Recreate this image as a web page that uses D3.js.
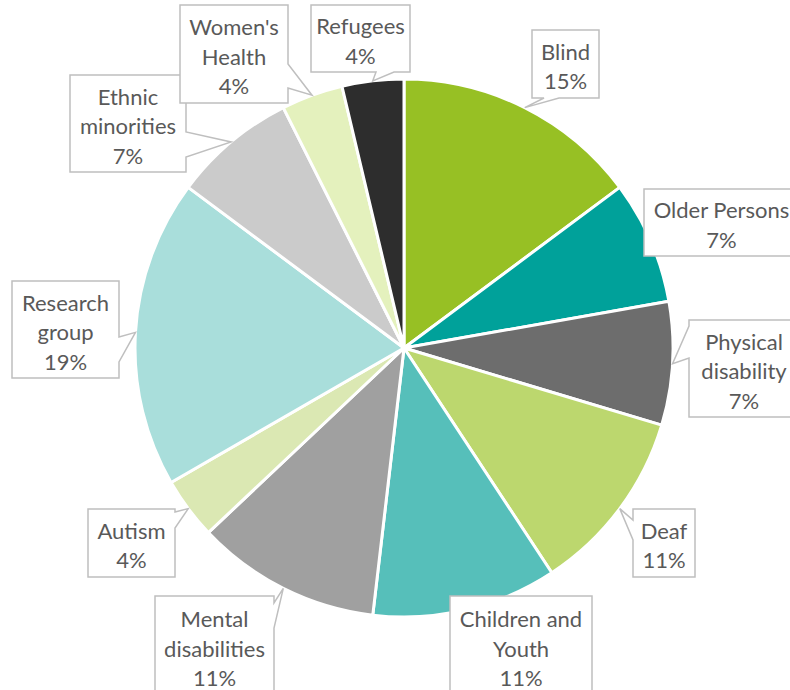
<!DOCTYPE html>
<html>
<head>
<meta charset="utf-8">
<script src="https://cdn.jsdelivr.net/npm/d3@7"></script>
<style>
  html, body { margin: 0; padding: 0; background: #ffffff; }
  svg { display: block; }
  .lbl { font-family: Lato, "Open Sans", "Liberation Sans", sans-serif; font-size: 22px; fill: #595959; }
</style>
</head>
<body>
<svg id="chart" width="790" height="690"></svg>
<script>
// Groups (clockwise from 12 o'clock) and number of entries in each
const categories = ["Blind", "Older Persons", "Physical disability", "Deaf", "Children and Youth",
  "Mental disabilities", "Autism", "Research group", "Ethnic minorities", "Women's Health", "Refugees"];
const counts = [4, 2, 2, 3, 3, 3, 1, 5, 2, 1, 1];
// Label text, broken into lines (the percentage is added as the last line)
const labelLines = [["Blind"], ["Older Persons"], ["Physical", "disability"], ["Deaf"], ["Children and", "Youth"],
  ["Mental", "disabilities"], ["Autism"], ["Research", "group"], ["Ethnic", "minorities"], ["Women's", "Health"], ["Refugees"]];
const colors = ["#97c024", "#00a19a", "#6d6d6d", "#bcd76e", "#56bfba", "#a0a0a0",
  "#dbe8b3", "#a9dedb", "#cbcbcb", "#e4f1bd", "#2d2d2d"];

// Callout boxes: x, y, w, h and the edge carrying the pointer (side, from, to)
const callouts = [
  { x: 532, y: 30,  w: 67,  h: 68, ptr: ["bottom", 544, 559] },
  { x: 644, y: 189, w: 155, h: 67, ptr: null },
  { x: 689, y: 320, w: 110, h: 97, ptr: ["left", 326, 358] },
  { x: 633, y: 509, w: 62,  h: 68, ptr: ["left", 520, 540] },
  { x: 450, y: 596, w: 142, h: 100, ptr: null },
  { x: 155, y: 596, w: 119, h: 100, ptr: ["right", 603, 628] },
  { x: 88,  y: 509, w: 87,  h: 68, ptr: ["right", 512, 528] },
  { x: 12,  y: 281, w: 107, h: 97, ptr: ["right", 337, 362] },
  { x: 70,  y: 75,  w: 116, h: 97, ptr: ["right", 132, 157] },
  { x: 180, y: 5,   w: 108, h: 98, ptr: ["right", 64, 88] },
  { x: 311, y: 5,   w: 99,  h: 67, ptr: ["bottom", 376, 394] }
];

const svg = d3.select("#chart");
const cx = 404, cy = 348, r = 269;
const total = d3.sum(counts);

const data = categories.map((c, i) => ({ name: c, value: counts[i], i }));
const pie = d3.pie().sort(null).value(d => d.value);
const arcs = pie(data);
const arc = d3.arc().innerRadius(0).outerRadius(r);
const rim = d3.arc().innerRadius(r).outerRadius(r);

const g = svg.append("g").attr("transform", `translate(${cx},${cy})`);
g.selectAll("path.slice")
  .data(arcs)
  .join("path")
  .attr("class", "slice")
  .attr("d", arc)
  .attr("fill", d => colors[d.data.i])
  .attr("stroke", "#ffffff")
  .attr("stroke-width", 3)
  .attr("stroke-linejoin", "round");

// Callout outline with a wedge pointing at the slice rim
function calloutPath(b, tip) {
  const x0 = b.x, y0 = b.y, x1 = b.x + b.w, y1 = b.y + b.h;
  const p = d3.path();
  const side = b.ptr ? b.ptr[0] : null;
  const a = b.ptr ? b.ptr[1] : 0, e = b.ptr ? b.ptr[2] : 0;
  p.moveTo(x0, y0);
  if (side === "top") { p.lineTo(a, y0); p.lineTo(tip[0], tip[1]); p.lineTo(e, y0); }
  p.lineTo(x1, y0);
  if (side === "right") { p.lineTo(x1, a); p.lineTo(tip[0], tip[1]); p.lineTo(x1, e); }
  p.lineTo(x1, y1);
  if (side === "bottom") { p.lineTo(e, y1); p.lineTo(tip[0], tip[1]); p.lineTo(a, y1); }
  p.lineTo(x0, y1);
  if (side === "left") { p.lineTo(x0, e); p.lineTo(tip[0], tip[1]); p.lineTo(x0, a); }
  p.closePath();
  return p.toString();
}

const lg = svg.append("g");
arcs.forEach(d => {
  const i = d.data.i;
  const b = callouts[i];
  const c = rim.centroid(d);
  const tip = [cx + c[0], cy + c[1]];
  lg.append("path")
    .attr("d", calloutPath(b, tip))
    .attr("fill", "#ffffff")
    .attr("stroke", "#bfbfbf")
    .attr("stroke-width", 1.5)
    .attr("stroke-linejoin", "miter");
  const lines = labelLines[i].concat([Math.round(d.data.value / total * 100) + "%"]);
  const lh = 29.5;
  const mid = b.y + b.h / 2 + 2;
  lines.forEach((t, k) => {
    lg.append("text")
      .attr("class", "lbl")
      .attr("x", b.x + b.w / 2)
      .attr("y", mid + (k - (lines.length - 1) / 2) * lh)
      .attr("text-anchor", "middle")
      .attr("dominant-baseline", "central")
      .text(t);
  });
});
</script>
</body>
</html>
